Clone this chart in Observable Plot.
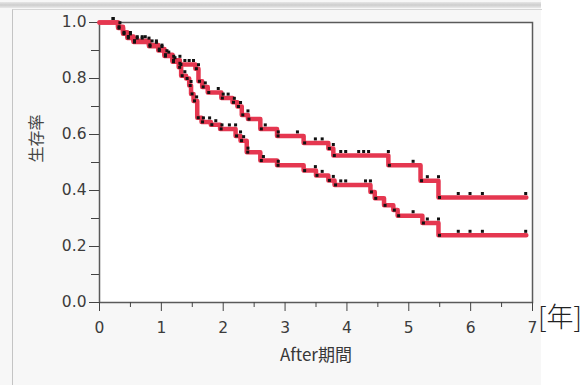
<!DOCTYPE html>
<html><head><meta charset="utf-8">
<script src="https://cdn.jsdelivr.net/npm/d3@7"></script>
<script src="https://cdn.jsdelivr.net/npm/@observablehq/plot@0.6"></script>
<style>
html,body{margin:0;padding:0;background:#fff;}
#wrap{position:relative;width:587px;height:385px;overflow:hidden;}
#panel{position:absolute;left:0;top:0;width:541px;height:385px;background:#f7f7f7;}
#band{position:absolute;left:0;top:2px;width:541px;height:6px;background:linear-gradient(#e6e6e6,#cdcdcd 50%,#e9e9e9);}
#inner{position:absolute;left:12px;top:9px;width:529px;height:376px;border-left:1px solid #c4c4c4;border-top:1px solid #d6d6d6;}
#chart{position:absolute;left:0;top:0;}
#unit{position:absolute;left:538px;top:302px;font:27px "Noto Sans CJK JP";font-weight:300;color:#222;line-height:1;}
</style></head>
<body>
<div id="wrap"><div id="panel"></div><div id="band"></div><div id="inner"></div><div id="chart"></div><div id="unit">[年]</div></div>
<script>
// Upper curve: step times and survival after each step
const timesA = [0, 0.30, 0.38, 0.45, 0.55, 0.80, 0.95, 1.05, 1.18, 1.30, 1.55, 1.60, 1.66, 1.75, 1.97, 2.15, 2.23, 2.30, 2.40, 2.60, 2.87, 3.30, 3.70, 3.78, 4.67, 5.19, 5.48];
const survA  = [1.0, 0.985, 0.965, 0.95, 0.935, 0.92, 0.905, 0.885, 0.865, 0.85, 0.835, 0.79, 0.77, 0.75, 0.73, 0.715, 0.70, 0.67, 0.655, 0.62, 0.595, 0.57, 0.55, 0.525, 0.49, 0.435, 0.375];
// Lower curve
const timesB = [0, 0.30, 0.38, 0.45, 0.55, 0.80, 0.95, 1.05, 1.18, 1.28, 1.32, 1.40, 1.45, 1.48, 1.52, 1.58, 1.65, 1.80, 1.95, 2.20, 2.28, 2.38, 2.60, 2.87, 3.30, 3.50, 3.70, 3.80, 4.38, 4.45, 4.60, 4.75, 4.82, 5.22, 5.48];
const survB  = [1.0, 0.98, 0.96, 0.945, 0.93, 0.915, 0.90, 0.88, 0.86, 0.84, 0.81, 0.80, 0.775, 0.745, 0.72, 0.66, 0.645, 0.635, 0.62, 0.595, 0.578, 0.537, 0.507, 0.49, 0.471, 0.454, 0.436, 0.42, 0.395, 0.372, 0.347, 0.33, 0.31, 0.284, 0.24];
const endTime = 6.90;
// Censoring times
const censorA = [0.22, 0.33, 0.50, 0.61, 0.69, 0.74, 0.85, 0.92, 1.01, 1.09, 1.20, 1.30, 1.38, 1.45, 1.52, 1.60, 1.71, 1.92, 2.00, 2.08, 2.18, 2.28, 2.40, 2.68, 2.89, 3.20, 3.49, 3.60, 3.78, 3.90, 3.98, 4.19, 4.27, 4.35, 4.67, 5.07, 5.30, 5.48, 5.80, 5.99, 6.19, 6.89];
const censorB = [0.22, 0.50, 0.61, 0.69, 0.80, 0.92, 1.01, 1.12, 1.22, 1.30, 1.38, 1.48, 1.57, 1.68, 1.78, 1.88, 1.98, 2.10, 2.20, 2.28, 2.33, 2.40, 2.65, 2.89, 3.49, 3.60, 3.78, 3.90, 3.98, 4.30, 4.38, 5.07, 5.30, 5.48, 5.80, 5.99, 6.19, 6.89];
const yTicks = [0, 0.2, 0.4, 0.6, 0.8, 1.0];
const yMinor = [0.1, 0.3, 0.5, 0.7, 0.9];
const xTicks = [0, 1, 2, 3, 4, 5, 6, 7];
const xMinor = [0.5, 1.5, 2.5, 3.5, 4.5, 5.5, 6.5];
const xLabel = "After期間";
const yLabel = "生存率";

function curve(ts, ss, g) {
  const pts = ts.map((t, i) => ({t, s: ss[i], g}));
  pts.push({t: endTime, s: ss[ss.length - 1], g});
  return pts;
}
function valueBefore(ts, ss, t) {
  let v = ss[0];
  for (let i = 0; i < ts.length; i++) if (ts[i] < t) v = ss[i];
  return v;
}
const lines = [...curve(timesA, survA, "A"), ...curve(timesB, survB, "B")];
const censors = [
  ...censorA.map(t => ({t, s: valueBefore(timesA, survA, t)})),
  ...censorB.map(t => ({t, s: valueBefore(timesB, survB, t)}))
];
const corners = [
  ...timesA.slice(1).map((t, i) => ({t, s: survA[i + 1]})),
  ...timesB.slice(1).map((t, i) => ({t, s: survB[i + 1]}))
];
const red = "#e53750";
const chart = Plot.plot({
  width: 587, height: 385,
  marginLeft: 99, marginRight: 55, marginTop: 22, marginBottom: 83,
  style: {background: "transparent", fontFamily: "DejaVu Sans", fontSize: "15.5px", color: "#3c3c3c"},
  x: {domain: [0, 7]},
  y: {domain: [0, 1]},
  marks: [
    Plot.frame({fill: "white", stroke: "#5a5a5a", strokeWidth: 1.5}),
    Plot.axisY({ticks: yTicks, tickSize: 10, tickPadding: 3, tickFormat: d3.format(".1f"), label: null, stroke: "#444"}),
    Plot.axisY({ticks: yMinor, tickSize: 8, tickFormat: () => "", label: null, stroke: "#444"}),
    Plot.axisX({ticks: xTicks, tickSize: 9, tickPadding: 10, tickFormat: d3.format("d"), label: null, stroke: "#444"}),
    Plot.axisX({ticks: xMinor, tickSize: 5, tickFormat: () => "", label: null, stroke: "#444"}),
    Plot.text([yLabel], {frameAnchor: "left", dx: -63, rotate: -90, fontSize: 16, fill: "#444", fontFamily: "Noto Sans CJK JP"}),
    Plot.text([xLabel], {frameAnchor: "bottom", dy: 58, fontSize: 17, fill: "#383838", fontFamily: "Noto Sans CJK JP"}),
    Plot.line(lines, {x: "t", y: "s", z: "g", curve: "step-after", stroke: red, strokeWidth: 4.5}),
    Plot.dot(corners, {x: "t", y: "s", symbol: "square", r: 1.7, fill: "#111", dx: 1}),
    Plot.dot(censors, {x: "t", y: "s", symbol: "square", r: 1.7, fill: "#111", dy: -4})
  ]
});
document.getElementById("chart").appendChild(chart);
</script>
</body></html>
